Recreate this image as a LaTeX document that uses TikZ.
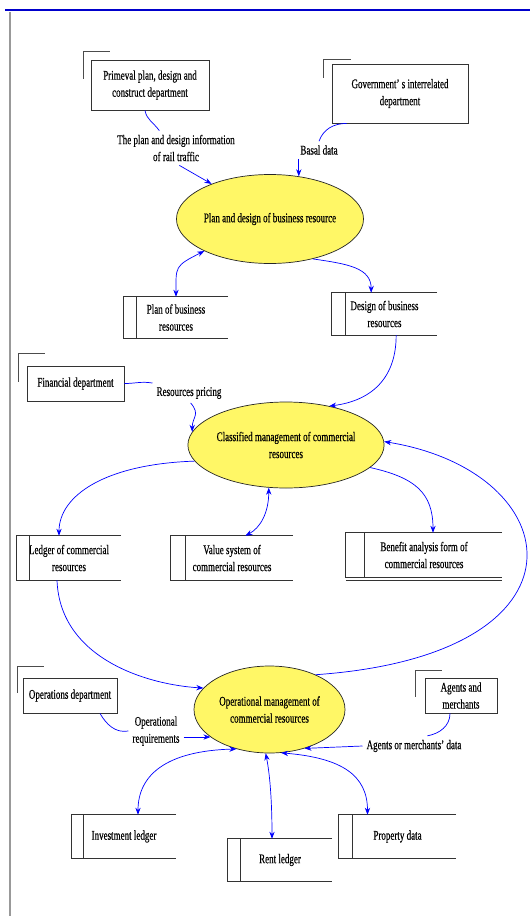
\documentclass[tikz,border=0pt]{standalone}
\usepackage{fontspec}
\setmainfont{Liberation Serif}[FakeStretch=0.68,FakeBold=0.4]
\usetikzlibrary{arrows.meta,shapes.geometric}

\begin{document}
\begin{tikzpicture}[x=0.03cm, y=-0.03cm, >={Stealth[length=6pt,width=4.5pt]},
	txt/.style={font=\fontsize{11.3}{14.5}\selectfont, align=center},
	entity/.style={txt, rectangle, draw=black!80, line width=0.7pt, inner sep=0pt},
	process/.style={txt, ellipse, draw=black!85, line width=0.6pt, fill=yellow!60, inner sep=0pt},
	store/.style={txt, inner sep=0pt},
	storeline/.style={draw=black!80, line width=0.7pt},
	corner/.style={draw=black!70, line width=0.8pt},
	flow/.style={blue, line width=0.6pt}]
		\useasboundingbox (0,0) rectangle (530,916);
		\draw [blue!80!black, line width=1.5pt] (5,10) -- (530,10);
		\draw [black!40, line width=1.2pt] (10,12) -- (10,916);

		\node [entity, minimum width=3.54cm, minimum height=1.5cm] (prim) at (150,85) {Primeval plan, design and\\construct department};
		\node [entity, minimum width=4.08cm, minimum height=1.77cm] (gov) at (400,93.5) {Government’\ s interrelated\\department};
		\node [process, minimum width=4.56cm, minimum height=2.67cm] (pdbr) at (270,219) {Plan and design of business resource};
		\node [store, minimum width=3.12cm, minimum height=1.23cm] (planbr) at (176,317.5) {Plan of business\\resources};
		\node [store, minimum width=3.15cm, minimum height=1.26cm] (designbr) at (384.5,314) {Design of business\\resources};
		\node [entity, minimum width=2.91cm, minimum height=1.05cm] (findep) at (75.5,383.5) {Financial department};
		\node [process, minimum width=4.56cm, minimum height=2.58cm] (cmcr) at (286,445) {Classified management of commercial\\resources};
		\node [store, minimum width=3.12cm, minimum height=1.32cm] (ledger) at (69,558) {Ledger of commercial\\resources};
		\node [store, minimum width=3.66cm, minimum height=1.32cm] (valsys) at (232,558) {Value system of\\commercial resources};
		\node [store, minimum width=4.68cm, minimum height=1.32cm] (benefit) at (424,555) {Benefit analysis form of\\commercial resources};
		\node [entity, minimum width=2.82cm, minimum height=1.05cm] (opsdep) at (70,695.5) {Operations department};
		\node [process, minimum width=4.53cm, minimum height=2.61cm] (omcr) at (269.5,709.5) {Operational management of\\commercial resources};
		\node [entity, minimum width=2.16cm, minimum height=1.05cm] (agents) at (461,695.5) {Agents and\\merchants};
		\node [store, minimum width=3.12cm, minimum height=1.29cm] (invest) at (124,836.5) {Investment ledger};
		\node [store, minimum width=3.12cm, minimum height=1.26cm] (rent) at (280,860) {Rent ledger};
		\node [store, minimum width=3.51cm, minimum height=1.29cm] (property) at (397.5,836.5) {Property data};

		\node [txt] (lblrail) at (176,148) {The plan and design information\\of rail traffic};
		\node [txt] (lblbasal) at (319,150) {Basal data};
		\node [txt] (lblpricing) at (189,393) {Resources pricing};
		\node [txt] (lblopreq) at (156,731) {Operational\\requirements};
		\node [txt] (lblagdata) at (414,746) {Agents or merchants’\ data};

		% external entity corners
		\draw [corner] ([shift={(19,-8)}]prim.north west) -| ([shift={(-7,19)}]prim.north west);
		\draw [corner] ([shift={(19,-4)}]gov.north west) -| ([shift={(-8,14)}]gov.north west);
		\draw [corner] ([shift={(18,-12)}]findep.north west) -| ([shift={(-8,16)}]findep.north west);
		\draw [corner] ([shift={(21,-11)}]opsdep.north west) -| ([shift={(-5,15)}]opsdep.north west);
		\draw [corner] ([shift={(17,-7)}]agents.north west) -| ([shift={(-9,19)}]agents.north west);

		% data stores
		\draw [storeline] (planbr.north east) -- (planbr.north west) -- (planbr.south west) -- (planbr.south east);
		\draw [storeline] ([xshift=0.39cm]planbr.north west) -- ([xshift=0.39cm]planbr.south west);
		\draw [storeline] (designbr.north east) -- (designbr.north west) -- (designbr.south west) -- (designbr.south east);
		\draw [storeline] ([xshift=0.42cm]designbr.north west) -- ([xshift=0.42cm]designbr.south west);
		\draw [storeline] (ledger.north east) -- (ledger.north west) -- (ledger.south west) -- (ledger.south east);
		\draw [storeline] ([xshift=0.39cm]ledger.north west) -- ([xshift=0.39cm]ledger.south west);
		\draw [storeline] (valsys.north east) -- (valsys.north west) -- (valsys.south west) -- (valsys.south east);
		\draw [storeline] ([xshift=0.45cm]valsys.north west) -- ([xshift=0.45cm]valsys.south west);
		\draw [storeline] (benefit.north east) -- (benefit.north west) -- (benefit.south west) -- (benefit.south east);
		\draw [storeline] ([xshift=0.57cm]benefit.north west) -- ([xshift=0.57cm]benefit.south west);
		\draw [storeline] ([yshift=-2.5pt]benefit.south west) -- ([yshift=-2.5pt]benefit.south east);
		\draw [storeline] (invest.north east) -- (invest.north west) -- (invest.south west) -- (invest.south east);
		\draw [storeline] ([xshift=0.36cm]invest.north west) -- ([xshift=0.36cm]invest.south west);
		\draw [storeline] (rent.north east) -- (rent.north west) -- (rent.south west) -- (rent.south east);
		\draw [storeline] ([xshift=0.39cm]rent.north west) -- ([xshift=0.39cm]rent.south west);
		\draw [storeline] (property.north east) -- (property.north west) -- (property.south west) -- (property.south east);
		\draw [storeline] ([xshift=0.42cm]property.north west) -- ([xshift=0.42cm]property.south west);

		% data flows
		\draw [flow] ([xshift=-0.15cm]prim.south) to[out=-80,in=125] ([xshift=-0.5cm]lblrail.north);
		\draw [flow,->] ([xshift=0.1cm]lblrail.south) -- (pdbr.149);
		\draw [flow] ([xshift=0.45cm]gov.south west) to[out=180,in=70] (lblbasal.north);
		\draw [flow,->] (lblbasal.south -| pdbr.56) -- (pdbr.56);
		\draw [flow,<->] (pdbr.206) .. controls +(-30,15) and +(0,-30) .. (planbr.north);
		\draw [flow,->] (pdbr.317) .. controls +(35,5) and +(0,-25) .. ([xshift=-0.4cm]designbr.north);
		\draw [flow,->] ([xshift=0.35cm]designbr.south) .. controls +(0,45) and +(40,-5) .. (cmcr.42);

		\draw [flow] (findep.east) to[out=0,in=170] (lblpricing.north west);
		\draw [flow,->] ([xshift=0.05cm]lblpricing.south) .. controls +(10,12) and +(0,-15) .. (cmcr.172);
		\draw [flow,->] (cmcr.190) .. controls +(-90,3) and +(0,-40) .. ([xshift=-0.3cm]ledger.north);
		\draw [flow,<->] (cmcr.248) .. controls +(0,25) and +(15,-8) .. ([xshift=0.4cm]valsys.north);
		\draw [flow,->] (cmcr.345) .. controls +(45,10) and +(0,-40) .. ([xshift=0.27cm]benefit.north);
		\draw [flow,->] (omcr.37) .. controls +(285,-20) and +(185,30) .. (cmcr.2);
		\draw [flow,->] ([xshift=-0.36cm]ledger.south) .. controls +(3,80) and +(-53,-3) .. (omcr.162);

		\draw [flow] ([xshift=0.9cm]opsdep.south) to[out=-60,in=190] (lblopreq.west);
		\draw [flow,->] (lblopreq.east |- omcr.205) -- (omcr.205);
		\draw [flow] ([xshift=-0.33cm]agents.south) to[out=-90,in=10] ([xshift=0.4cm]lblagdata.north);
		\draw [flow,->] (lblagdata.west) -- (omcr.312);
		\draw [flow,<->] (omcr.230) .. controls +(-70,2) and +(0,-40) .. ([xshift=0.42cm]invest.north);
		\draw [flow,<->] (omcr.265) .. controls +(5,25) and +(0,-30) .. ([xshift=-0.24cm]rent.north);
		\draw [flow,<->] (omcr.285) .. controls +(60,5) and +(0,-40) .. ([xshift=-0.9cm]property.north);
	\end{tikzpicture}
\end{document}
